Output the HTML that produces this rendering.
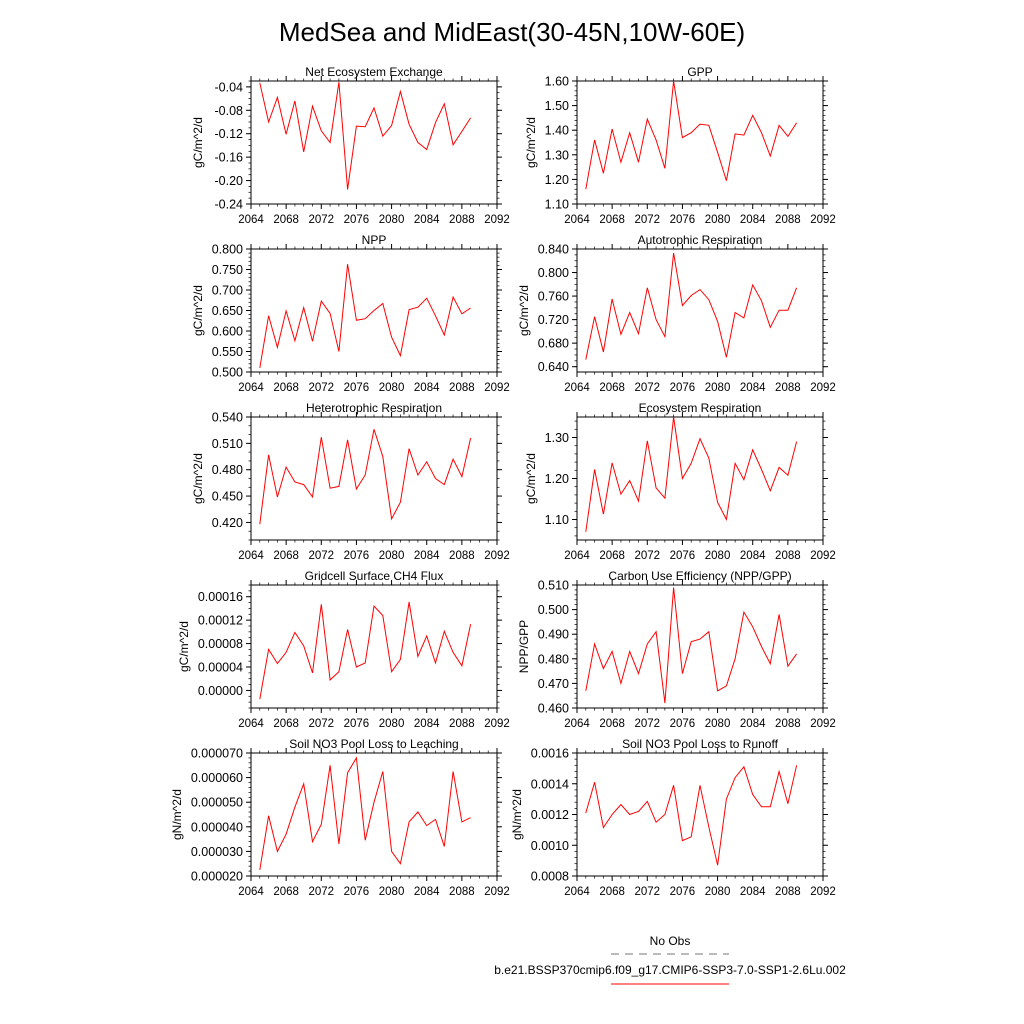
<!DOCTYPE html>
<html><head><meta charset="utf-8">
<style>body{margin:0;background:#fff}svg{display:block;font-family:"Liberation Sans",sans-serif}</style>
</head><body>
<svg id="c" width="1024" height="1024" viewBox="0 0 1024 1024">
<text x="512" y="41" font-size="26" text-anchor="middle">MedSea and MidEast(30-45N,10W-60E)</text>
<g>
<text x="670" y="945" font-size="12" text-anchor="middle">No Obs</text>
<line x1="611" y1="954" x2="729" y2="954" stroke="#777" stroke-dasharray="8,6"/>
<text x="670" y="974" font-size="12" text-anchor="middle">b.e21.BSSP370cmip6.f09_g17.CMIP6-SSP3-7.0-SSP1-2.6Lu.002</text>
<line x1="611" y1="984" x2="729" y2="984" stroke="red"/>
</g>
</svg>
<script>
const years = [2065,2066,2067,2068,2069,2070,2071,2072,2073,2074,2075,2076,2077,2078,2079,2080,2081,2082,2083,2084,2085,2086,2087,2088,2089];
const xTicks = [2064,2068,2072,2076,2080,2084,2088,2092];
const neeVals = [-0.033,-0.100,-0.058,-0.121,-0.064,-0.151,-0.073,-0.115,-0.135,-0.032,-0.215,-0.107,-0.108,-0.076,-0.124,-0.106,-0.048,-0.104,-0.135,-0.147,-0.101,-0.069,-0.139,-0.116,-0.093];
const gppVals = [1.16,1.36,1.225,1.405,1.27,1.39,1.27,1.445,1.36,1.245,1.60,1.37,1.39,1.425,1.42,1.31,1.195,1.385,1.38,1.46,1.39,1.295,1.42,1.375,1.43];
const nppVals = [0.51,0.637,0.56,0.649,0.576,0.657,0.575,0.673,0.643,0.55,0.763,0.626,0.63,0.65,0.667,0.585,0.54,0.652,0.658,0.68,0.637,0.59,0.683,0.642,0.656];
const arVals = [0.652,0.725,0.665,0.755,0.695,0.732,0.696,0.774,0.72,0.691,0.833,0.744,0.761,0.771,0.754,0.717,0.656,0.732,0.723,0.779,0.752,0.707,0.736,0.736,0.774];
const hrVals = [0.418,0.497,0.449,0.483,0.466,0.463,0.449,0.517,0.459,0.461,0.514,0.458,0.474,0.526,0.495,0.424,0.443,0.504,0.474,0.489,0.470,0.463,0.492,0.472,0.516];
const erVals = [1.07,1.222,1.113,1.238,1.162,1.195,1.145,1.292,1.177,1.152,1.35,1.20,1.237,1.297,1.25,1.142,1.10,1.237,1.197,1.27,1.222,1.17,1.227,1.208,1.29];
const ch4Vals = [-0.000015,0.00007,0.000046,0.000065,0.000099,0.000076,0.00003,0.000147,0.000018,0.000032,0.000104,0.00004,0.000047,0.000144,0.000128,0.000032,0.000053,0.000151,0.000058,0.000093,0.000047,0.000101,0.000065,0.000042,0.000113];
const cueVals = [0.467,0.486,0.476,0.483,0.470,0.483,0.474,0.486,0.491,0.462,0.509,0.474,0.487,0.488,0.491,0.467,0.469,0.480,0.499,0.493,0.485,0.478,0.498,0.477,0.482];
const leachVals = [0.0000225,0.0000445,0.00003,0.000037,0.000048,0.0000575,0.000034,0.000041,0.000065,0.000033,0.000062,0.000068,0.0000345,0.00005,0.0000625,0.00003,0.000025,0.000042,0.000046,0.0000405,0.000043,0.000032,0.0000625,0.000042,0.0000437];
const runoffVals = [0.00121,0.00141,0.001115,0.0012,0.001265,0.0012,0.00122,0.001285,0.00115,0.0012,0.00139,0.00103,0.001055,0.00139,0.00112,0.00087,0.0013,0.00144,0.00151,0.00133,0.00125,0.00125,0.00148,0.00127,0.00152];
const neeTicks = [-0.04,-0.08,-0.12,-0.16,-0.20,-0.24];
const gppTicks = [1.10,1.20,1.30,1.40,1.50,1.60];
const nppTicks = [0.5,0.55,0.6,0.65,0.7,0.75,0.8];
const arTicks = [0.64,0.68,0.72,0.76,0.80,0.84];
const hrTicks = [0.42,0.45,0.48,0.51,0.54];
const erTicks = [1.1,1.2,1.3];
const ch4Ticks = [0,0.00004,0.00008,0.00012,0.00016];
const cueTicks = [0.46,0.47,0.48,0.49,0.50,0.51];
const leachTicks = [0.00002,0.00003,0.00004,0.00005,0.00006,0.00007];
const runoffTicks = [0.0008,0.0010,0.0012,0.0014,0.0016];

const panels = [
 {name:'nee',title:'Net Ecosystem Exchange',yt:'gC/m^2/d',v:neeVals,t:neeTicks,min:-0.24,max:-0.03,dec:2,minor:0.01,col:0,row:0},
 {name:'gpp',title:'GPP',yt:'gC/m^2/d',v:gppVals,t:gppTicks,min:1.10,max:1.60,dec:2,minor:0.02,col:1,row:0},
 {name:'npp',title:'NPP',yt:'gC/m^2/d',v:nppVals,t:nppTicks,min:0.5,max:0.8,dec:3,minor:0.01,col:0,row:1},
 {name:'ar',title:'Autotrophic Respiration',yt:'gC/m^2/d',v:arVals,t:arTicks,min:0.631,max:0.84,dec:3,minor:0.01,col:1,row:1},
 {name:'hr',title:'Heterotrophic Respiration',yt:'gC/m^2/d',v:hrVals,t:hrTicks,min:0.40,max:0.54,dec:3,minor:0.01,col:0,row:2},
 {name:'er',title:'Ecosystem Respiration',yt:'gC/m^2/d',v:erVals,t:erTicks,min:1.05,max:1.35,dec:2,minor:0.02,col:1,row:2},
 {name:'ch4',title:'Gridcell Surface CH4 Flux',yt:'gC/m^2/d',v:ch4Vals,t:ch4Ticks,min:-0.00003,max:0.00018,dec:5,minor:0.00001,col:0,row:3},
 {name:'cue',title:'Carbon Use Efficiency (NPP/GPP)',yt:'NPP/GPP',v:cueVals,t:cueTicks,min:0.46,max:0.51,dec:3,minor:0.002,col:1,row:3},
 {name:'leach',title:'Soil NO3 Pool Loss to Leaching',yt:'gN/m^2/d',v:leachVals,t:leachTicks,min:0.00002,max:0.00007,dec:6,minor:0.000002,col:0,row:4},
 {name:'runoff',title:'Soil NO3 Pool Loss to Runoff',yt:'gN/m^2/d',v:runoffVals,t:runoffTicks,min:0.0008,max:0.0016,dec:4,minor:0.00004,col:1,row:4}
];
const svg = document.getElementById('c');
const NS = 'http://www.w3.org/2000/svg';
function mk(tag, attrs, parent){const e=document.createElementNS(NS,tag);for(const k in attrs)e.setAttribute(k,attrs[k]);parent.appendChild(e);return e;}
const W=246,H=123;
panels.forEach(p=>{
  const L = p.col===0?251:577, T = [81,249,417,585,753][p.row];
  const g = mk('g',{},svg);
  
  
  const xs = v=>L+(v-2064)/(2092-2064)*W;
  const ys = v=>T+H-(v-p.min)/(p.max-p.min)*H;
  // x ticks
  for(let yr=2064; yr<=2092; yr++){
    const major = (yr-2064)%4===0, len = major?5:2.5, x=xs(yr);
    mk('line',{x1:x,y1:T+H,x2:x,y2:T+H+len,stroke:'#000','stroke-width':major?1:0.7},g);
    mk('line',{x1:x,y1:T,x2:x,y2:T-len,stroke:'#000','stroke-width':major?1:0.7},g);
  }
  xTicks.forEach(yr=>{
    const t = mk('text',{x:xs(yr),y:T+H+19,'font-size':11.5,'text-anchor':'middle'},g);
    t.textContent = yr;
    
    
  });
  // y minor ticks
  const start = Math.ceil(p.min/p.minor-1e-6);
  for(let k=start; k*p.minor<=p.max+1e-12; k++){
    const v=k*p.minor, y=ys(v);
    mk('line',{x1:L,y1:y,x2:L-2.5,y2:y,stroke:'#000','stroke-width':0.7},g);
    mk('line',{x1:L+W,y1:y,x2:L+W+2.5,y2:y,stroke:'#000','stroke-width':0.7},g);
  }
  p.t.forEach(v=>{
    const y=ys(v);
    mk('line',{x1:L,y1:y,x2:L-5,y2:y,stroke:'#000'},g);
    mk('line',{x1:L+W,y1:y,x2:L+W+5,y2:y,stroke:'#000'},g);
    const t = mk('text',{x:L-8,y:y+4.5,'font-size':12.5,'text-anchor':'end'},g);
    t.textContent = v.toFixed(p.dec);
    
    
  });
  mk('rect',{x:L,y:T,width:W,height:H,fill:'none',stroke:'#000','stroke-width':1},g);
  const tt = mk('text',{x:L+W/2,y:T-5,'font-size':12,'text-anchor':'middle'},g);
  tt.textContent = p.title;
  
  
  const longest = Math.max(...p.t.map(v=>v.toFixed(p.dec).length));
  const ax = L-14-longest*7;
  const yt = mk('text',{x:ax,y:T+H/2,'font-size':12,'text-anchor':'middle',transform:`rotate(-90 ${ax} ${T+H/2})`},g);
  yt.textContent = p.yt;
  
  
  const pts = years.map((yr,i)=>xs(yr).toFixed(1)+','+ys(p.v[i]).toFixed(1)).join(' ');
  const line = mk('polyline',{points:pts,fill:'none',stroke:'red','stroke-width':1},g);
  
  
});
</script>
</body></html>
